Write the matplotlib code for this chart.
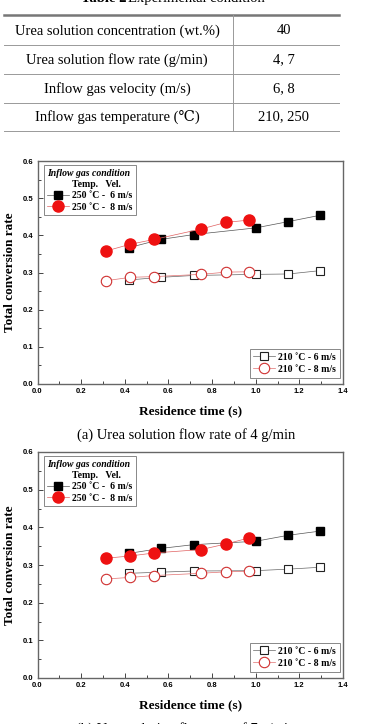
import matplotlib.pyplot as plt
from matplotlib.lines import Line2D
from matplotlib.ticker import MultipleLocator

W, H = 368, 724

# table content
table_params = ['Urea solution concentration (wt.%)', 'Urea solution flow rate (g/min)',
                'Inflow gas velocity (m/s)', 'Inflow gas temperature (\u2103)']
table_values = ['40', '4, 7', '6, 8', '210, 250']

# residence time (s)
t_6ms = [0.42, 0.565, 0.715, 1.0, 1.15, 1.295]
t_8ms = [0.315, 0.425, 0.535, 0.75, 0.865, 0.97]

# (a) 4 g/min
a_250_6 = [0.367, 0.389, 0.402, 0.420, 0.437, 0.454]
a_250_8 = [0.358, 0.376, 0.389, 0.417, 0.435, 0.441]
a_210_6 = [0.280, 0.287, 0.292, 0.295, 0.296, 0.305]
a_210_8 = [0.278, 0.287, 0.289, 0.295, 0.301, 0.302]

# (b) 7 g/min
b_250_6 = [0.331, 0.344, 0.354, 0.363, 0.379, 0.390]
b_250_8 = [0.318, 0.324, 0.332, 0.341, 0.356, 0.372]
b_210_6 = [0.278, 0.281, 0.284, 0.285, 0.289, 0.294]
b_210_8 = [0.263, 0.267, 0.272, 0.278, 0.282, 0.283]

captions = ['(a) Urea solution flow rate of 4 g/min', '(b) Urea solution flow rate of 7 g/min']

SERIF = ['Liberation Serif', 'DejaVu Serif', 'DejaVu Sans']
SANS = 'Liberation Sans'


def fx(px):
    return px / W


def fy(py):
    return 1 - py / H


fig = plt.figure(figsize=(W / 100, H / 100), dpi=100)

# ---- table ----
fig.text(fx(126), fy(-1), 'Table 2', ha='right', va='center', family=SERIF,
         weight='bold', fontsize=10.5)
fig.text(fx(128), fy(-1), 'Experimental condition', ha='left', va='center',
         family=SERIF, fontsize=10.5)
fig.add_artist(Line2D([fx(4), fx(339)], [fy(15.3), fy(15.3)], color='#777777', lw=1.8))
row_lines = [45, 74, 103, 131]
for y in row_lines:
    fig.add_artist(Line2D([fx(4), fx(339)], [fy(y), fy(y)], color='#999999', lw=0.7))
fig.add_artist(Line2D([fx(233), fx(233)], [fy(15.3), fy(131)], color='#999999', lw=0.7))
row_y = [31, 60, 89, 117]
for name, val, y in zip(table_params, table_values, row_y):
    fig.text(fx(117), fy(y), name, ha='center', va='center', family=SERIF, fontsize=10.5)
    fig.text(fx(284), fy(y), val, ha='center', va='center', family=SERIF, fontsize=10.5)


def draw_panel(top, bottom, s250_6, s250_8, s210_6, s210_8, caption):
    left, right = 37.5, 343
    ax = fig.add_axes([fx(left), fy(bottom), (right - left) / W, (bottom - top) / H])
    l1, = ax.plot(t_6ms, s250_6, '-s', color='#555555', lw=0.5, mfc='black', mec='black',
                  ms=6, label='250 \u02daC -  6 m/s')
    l2, = ax.plot(t_8ms, s250_8, '-o', color='#e06060', lw=0.5, mfc='#ee1111', mec='#ee1111',
                  ms=8, label='250 \u02daC -  8 m/s')
    l3, = ax.plot(t_6ms, s210_6, '-s', color='#666666', lw=0.5, mfc='white', mec='#222222',
                  mew=0.8, ms=6, label='210 \u02daC - 6 m/s')
    l4, = ax.plot(t_8ms, s210_8, '-o', color='#e07070', lw=0.5, mfc='white', mec='#d03030',
                  mew=0.8, ms=7.5, label='210 \u02daC - 8 m/s')

    ax.set_xlim(0, 1.4)
    ax.set_ylim(0, 0.6)
    ax.xaxis.set_major_locator(MultipleLocator(0.2))
    ax.xaxis.set_minor_locator(MultipleLocator(0.1))
    ax.yaxis.set_major_locator(MultipleLocator(0.1))
    ax.yaxis.set_minor_locator(MultipleLocator(0.05))
    ax.tick_params(which='both', direction='in', top=False, right=False, color='#444444',
                   width=0.7, labelsize=5.5, pad=3)
    ax.tick_params(which='major', length=3.5)
    ax.tick_params(which='minor', length=2)
    for lab in ax.get_xticklabels() + ax.get_yticklabels():
        lab.set_family(SANS)
        lab.set_weight('bold')
    for sp in ax.spines.values():
        sp.set_color('#666666')
        sp.set_linewidth(1.0)

    ax.set_xlabel('Residence time (s)', family=SERIF, weight='bold', fontsize=9.5, labelpad=7)
    ax.set_ylabel('Total conversion rate', family=SERIF, weight='bold', fontsize=9.5, labelpad=5)

    blank = Line2D([], [], linestyle='none')
    leg1 = ax.legend([blank, l1, l2], ['Temp.   Vel.', l1.get_label(), l2.get_label()],
                     loc='upper left', bbox_to_anchor=(0.015, 0.99), title='Inflow gas condition',
                     title_fontproperties={'family': SERIF, 'style': 'italic', 'weight': 'bold',
                                           'size': 7},
                     alignment='left', prop={'family': SERIF, 'weight': 'bold', 'size': 7},
                     fancybox=False, edgecolor='#888888', framealpha=1, borderpad=0.35,
                     labelspacing=0.25, handlelength=2.2, handletextpad=0.3, borderaxespad=0.2)
    leg1.get_frame().set_linewidth(0.7)
    ax.add_artist(leg1)
    leg2 = ax.legend([l3, l4], [l3.get_label(), l4.get_label()], loc='lower right',
                     bbox_to_anchor=(0.995, 0.02),
                     prop={'family': SERIF, 'weight': 'bold', 'size': 7},
                     fancybox=False, edgecolor='#888888', framealpha=1, borderpad=0.4,
                     labelspacing=0.3, handlelength=2.2, handletextpad=0.3, borderaxespad=0.2)
    leg2.get_frame().set_linewidth(0.7)

    fig.text(fx(186), fy(bottom + 51), caption, ha='center', va='center', family=SERIF,
             fontsize=10.5)
    return ax


draw_panel(161, 384, a_250_6, a_250_8, a_210_6, a_210_8, captions[0])
draw_panel(452, 678, b_250_6, b_250_8, b_210_6, b_210_8, captions[1])

fig.savefig('out.png', dpi=100)
